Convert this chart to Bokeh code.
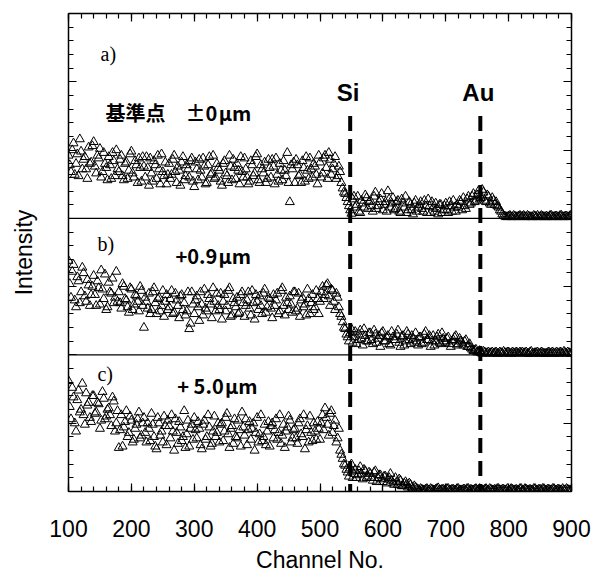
from bokeh.plotting import figure
from bokeh.models import (Range1d, LinearAxis, SingleIntervalTicker, Span, Label,
                          CustomJSTickFormatter)
from bokeh.embed import file_html
from bokeh.resources import INLINE

# ---------------- data ----------------
channels = list(range(100, 901, 4))       # first set of sampled channels
channels_2 = list(range(102, 899, 4))     # interleaved second set

# panel a) reference point +-0 um  (panel units 0..15)
intensity_a = [
    4.6, 3.4, 5.5, 4.0, 3.1, 4.9, 4.3, 3.6, 5.2, 4.1,
    5.6, 3.3, 4.4, 3.0, 4.8, 3.7, 4.5, 2.9, 4.2, 5.0,
    3.4, 4.6, 2.8, 4.1, 3.5, 4.9, 3.0, 3.9, 4.4, 2.7,
    3.8, 4.5, 2.4, 3.3, 4.2, 2.9, 3.6, 4.7, 3.1, 2.5,
    4.0, 3.2, 4.6, 2.6, 3.5, 4.1, 2.8, 3.9, 3.0, 4.4,
    2.3, 3.6, 4.3, 3.0, 3.8, 2.6, 4.5, 3.3, 2.9, 4.0,
    3.5, 2.4, 4.2, 3.1, 4.6, 2.8, 3.7, 4.0, 2.5, 3.4,
    4.4, 3.0, 2.7, 3.9, 3.3, 4.7, 2.6, 3.6, 4.1, 2.9,
    3.7, 4.3, 2.5, 3.2, 4.0, 2.8, 3.5, 4.8, 1.2, 3.6,
    2.6, 3.9, 3.2, 4.2, 2.7, 3.5, 4.4, 3.0, 3.8, 2.5,
    4.1, 3.3, 4.6, 2.9, 4.3, 3.6, 4.5, 3.1, 3.4, 2.2,
    1.8, 1.2, 0.6, 1.4, 0.8, 1.6, 0.4, 1.1, 1.7, 0.7,
    1.3, 0.5, 1.9, 0.9, 1.4, 0.6, 1.2, 2.0, 0.8, 1.5,
    0.7, 1.3, 0.4, 1.1, 1.6, 0.6, 1.0, 0.3, 1.3, 0.8,
    1.2, 0.5, 0.9, 1.4, 0.4, 0.8, 1.1, 0.3, 1.0, 0.6,
    1.1, 0.4, 0.9, 1.3, 0.5, 0.8, 1.2, 1.5, 0.7, 1.6,
    1.1, 1.8, 1.3, 2.0, 1.5, 1.9, 1.2, 1.6, 1.0, 1.3,
    1.2, 0.8, 0.5, 0.2, 0.1, 0.15, 0.1, 0.2, 0.1, 0.15,
    0.1, 0.2, 0.1, 0.15, 0.1, 0.2, 0.1, 0.1, 0.2, 0.1,
    0.15, 0.1, 0.2, 0.1, 0.15, 0.1, 0.2, 0.1, 0.15, 0.1,
    0.2,
]
intensity_a_2 = [
    3.9, 5.0, 3.2, 4.7, 5.8, 3.6, 4.5, 2.9, 4.0, 5.3,
    3.8, 4.6, 5.1, 3.4, 4.0, 2.8, 3.9, 4.8, 3.1, 3.6,
    4.3, 3.1, 4.0, 2.9, 4.7, 3.3, 4.2, 2.6, 3.7, 4.5,
    3.0, 3.7, 4.4, 2.7, 3.9, 4.6, 2.5, 3.4, 4.1, 3.2,
    2.9, 4.3, 3.4, 3.8, 2.4, 4.5, 3.1, 3.6, 4.2, 2.7,
    4.1, 2.8, 3.5, 4.4, 2.5, 3.9, 3.2, 4.6, 3.0, 3.7,
    2.7, 4.0, 3.3, 2.6, 3.8, 4.3, 2.9, 3.5, 4.5, 3.0,
    3.6, 2.5, 4.2, 3.1, 4.5, 2.8, 3.9, 3.3, 2.6, 4.3,
    3.0, 3.8, 4.4, 2.7, 3.5, 4.2, 3.1, 2.6, 3.9, 4.1,
    4.3, 3.1, 2.6, 3.7, 4.5, 2.9, 3.6, 4.0, 3.2, 4.6,
    3.0, 4.4, 3.7, 4.8, 3.2, 4.0, 2.9, 3.8, 2.6, 1.9,
    1.5, 0.9, 0.35, 1.6, 1.0, 0.5, 1.3, 0.8, 1.5, 1.2,
    0.9, 1.6, 0.7, 1.2, 1.8, 1.0, 0.5, 1.4, 1.1, 0.6,
    1.2, 0.5, 1.4, 0.8, 0.4, 1.2, 0.6, 1.1, 0.5, 1.0,
    0.7, 1.3, 0.4, 0.9, 1.2, 0.5, 0.7, 1.0, 0.4, 0.9,
    0.6, 1.2, 0.5, 0.8, 1.0, 1.3, 0.6, 0.9, 1.4, 1.0,
    1.6, 1.2, 1.7, 1.4, 2.1, 1.3, 1.7, 1.1, 1.5, 1.0,
    0.9, 0.6, 0.3, 0.15, 0.1, 0.2, 0.1, 0.15, 0.1, 0.2,
    0.15, 0.1, 0.2, 0.1, 0.1, 0.15, 0.2, 0.1, 0.15, 0.1,
    0.1, 0.2, 0.1, 0.15, 0.1, 0.2, 0.1, 0.15, 0.1, 0.2,
]

# panel b) +0.9 um  (panel units 0..10)
intensity_b = [
    6.9, 4.2, 6.6, 3.5, 5.4, 4.6, 6.0, 3.9, 5.1, 4.4,
    5.8, 3.6, 4.9, 6.2, 4.1, 3.3, 5.3, 4.5, 3.8, 6.1,
    4.6, 3.4, 5.0, 4.0, 3.1, 4.8, 3.7, 4.3, 3.2, 4.7,
    2.0, 3.9, 4.5, 3.3, 4.9, 3.0, 4.2, 3.6, 2.8, 4.4,
    3.5, 4.7, 3.1, 4.0, 2.7, 4.4, 3.8, 3.2, 1.9, 4.6,
    3.0, 4.3, 2.5, 3.7, 4.8, 3.2, 4.1, 2.7, 3.9, 4.5,
    3.3, 2.6, 4.4, 3.6, 4.9, 2.9, 3.8, 4.2, 3.1, 4.6,
    2.8, 4.0, 3.4, 4.7, 2.6, 3.9, 4.3, 3.0, 4.8, 3.5,
    4.1, 2.7, 3.6, 4.5, 3.2, 4.9, 2.9, 3.8, 4.3, 3.1,
    4.6, 3.4, 2.8, 4.2, 3.7, 4.8, 3.0, 4.4, 3.5, 4.1,
    3.9, 5.0, 4.4, 5.2, 3.6, 4.7, 3.3, 4.2, 3.0, 2.4,
    1.9, 1.3, 1.6, 0.9, 1.7, 1.1, 1.8, 0.7, 1.4, 1.0,
    1.6, 0.8, 1.5, 1.2, 0.6, 1.7, 1.0, 1.4, 0.7, 1.3,
    1.1, 1.8, 0.6, 1.4, 1.0, 1.5, 0.8, 1.2, 1.6, 0.7,
    1.3, 0.9, 1.7, 1.1, 0.6, 1.4, 1.0, 1.5, 0.8, 1.2,
    0.9, 1.3, 0.6, 1.1, 1.4, 0.8, 1.0, 0.7, 1.1, 0.6,
    0.5, 0.3, 0.4, 0.2, 0.15, 0.25, 0.1, 0.2, 0.15, 0.1,
    0.2, 0.1, 0.15, 0.25, 0.1, 0.2, 0.1, 0.15, 0.2, 0.1,
    0.15, 0.1, 0.2, 0.1, 0.25, 0.1, 0.15, 0.1, 0.2, 0.1,
    0.1, 0.2, 0.15, 0.1, 0.2, 0.1, 0.15, 0.25, 0.1, 0.15,
    0.1,
]
intensity_b_2 = [
    5.2, 6.1, 4.0, 5.7, 3.8, 6.4, 4.3, 5.5, 3.6, 5.0,
    4.4, 5.4, 3.7, 4.8, 5.9, 3.5, 4.6, 5.6, 4.2, 3.9,
    3.8, 5.2, 4.1, 3.5, 4.9, 3.3, 4.4, 3.9, 5.0, 3.6,
    4.2, 3.4, 3.0, 4.6, 3.8, 4.1, 3.2, 4.7, 3.9, 3.3,
    4.1, 3.0, 4.5, 3.6, 4.3, 3.3, 2.9, 4.6, 2.3, 3.7,
    4.0, 3.5, 4.6, 2.9, 3.4, 4.4, 3.7, 4.9, 3.2, 3.6,
    4.5, 3.9, 3.2, 4.7, 2.8, 4.1, 3.5, 3.0, 4.4, 3.8,
    3.6, 4.6, 2.9, 3.8, 4.4, 3.3, 3.6, 4.5, 3.1, 4.2,
    3.4, 4.4, 4.0, 3.0, 4.7, 3.6, 4.2, 3.3, 3.7, 4.6,
    3.2, 4.5, 4.0, 3.5, 2.9, 4.1, 3.8, 3.3, 4.7, 3.0,
    4.6, 4.1, 5.1, 4.3, 4.8, 3.9, 4.5, 3.5, 2.8, 2.0,
    1.5, 1.0, 1.9, 1.3, 0.8, 1.5, 1.2, 1.9, 1.0, 1.6,
    1.1, 1.8, 0.9, 1.4, 1.6, 1.0, 1.3, 0.8, 1.7, 1.1,
    1.5, 0.9, 1.3, 0.7, 1.7, 1.1, 1.4, 0.9, 1.0, 1.3,
    0.8, 1.5, 1.1, 1.4, 1.0, 0.7, 1.3, 0.9, 1.6, 1.0,
    1.2, 0.8, 1.0, 1.3, 0.7, 1.2, 0.9, 1.0, 0.6, 0.8,
    0.4, 0.35, 0.2, 0.3, 0.1, 0.2, 0.15, 0.1, 0.2, 0.15,
    0.1, 0.2, 0.1, 0.15, 0.2, 0.1, 0.2, 0.1, 0.15, 0.2,
    0.2, 0.15, 0.1, 0.2, 0.1, 0.15, 0.2, 0.1, 0.15, 0.1,
    0.15, 0.1, 0.2, 0.1, 0.15, 0.2, 0.1, 0.15, 0.2, 0.1,
]

# panel c) +5.0 um  (panel units 0..10)
intensity_c = [
    8.1, 5.3, 6.9, 4.4, 7.4, 6.0, 5.6, 7.2, 6.5, 5.1,
    7.0, 5.8, 6.4, 5.2, 6.8, 5.5, 6.1, 4.8, 6.6, 5.0,
    3.2, 5.6, 4.7, 5.9, 4.3, 5.2, 3.8, 4.9, 5.8, 4.1,
    5.4, 3.6, 4.6, 5.7, 4.0, 3.1, 5.0, 4.4, 5.5, 3.4,
    4.8, 5.6, 3.0, 4.3, 5.1, 3.7, 5.9, 4.2, 3.3, 4.9,
    5.4, 3.9, 4.6, 3.1, 5.2, 4.0, 4.7, 3.5, 5.5, 4.3,
    3.6, 5.0, 4.4, 5.7, 3.2, 4.8, 5.3, 3.9, 4.5, 5.8,
    4.1, 3.4, 5.1, 4.6, 3.0, 5.4, 4.2, 3.7, 4.9, 4.4,
    3.3, 5.0, 4.5, 3.8, 5.6, 4.1, 3.2, 4.7, 5.2, 3.9,
    4.6, 3.5, 5.3, 4.0, 3.1, 4.8, 5.5, 3.7, 4.4, 5.1,
    3.8, 5.6, 6.1, 4.9, 5.7, 4.3, 5.2, 3.9, 3.0, 2.4,
    1.9, 1.4, 1.7, 1.0, 1.6, 1.2, 1.8, 0.9, 1.5, 1.1,
    1.3, 0.8, 1.5, 1.0, 1.2, 0.7, 1.1, 0.9, 1.3, 0.6,
    1.0, 0.5, 0.8, 0.4, 0.7, 0.3, 0.5, 0.2, 0.3, 0.15,
    0.2, 0.1, 0.15, 0.1, 0.2, 0.1, 0.15, 0.25, 0.1, 0.15,
    0.1, 0.2, 0.1, 0.15, 0.1, 0.2, 0.1, 0.15, 0.1, 0.2,
    0.15, 0.1, 0.2, 0.1, 0.15, 0.1, 0.2, 0.1, 0.15, 0.1,
    0.1, 0.2, 0.1, 0.15, 0.1, 0.1, 0.2, 0.1, 0.15, 0.1,
    0.2, 0.1, 0.15, 0.1, 0.1, 0.2, 0.1, 0.15, 0.1, 0.2,
    0.1, 0.15, 0.1, 0.2, 0.1, 0.15, 0.1, 0.1, 0.2, 0.1,
    0.1,
]
intensity_c_2 = [
    6.2, 7.6, 5.0, 6.7, 5.8, 7.9, 4.9, 6.3, 5.4, 7.0,
    5.7, 6.5, 4.6, 7.3, 5.3, 6.0, 5.6, 6.9, 4.4, 5.9,
    4.5, 3.3, 5.1, 4.0, 5.5, 3.6, 4.6, 5.3, 3.9, 5.0,
    4.3, 5.0, 3.7, 4.9, 3.3, 5.4, 4.1, 3.6, 4.8, 5.2,
    3.9, 4.4, 5.3, 3.5, 4.7, 4.0, 3.2, 5.2, 4.6, 3.8,
    4.5, 5.1, 3.4, 4.9, 3.8, 5.6, 3.3, 4.4, 4.0, 5.0,
    4.9, 3.7, 5.4, 4.2, 4.6, 3.5, 4.0, 5.2, 3.3, 4.7,
    5.3, 4.5, 3.8, 5.0, 4.3, 3.6, 5.6, 4.0, 3.4, 5.1,
    4.8, 3.9, 5.3, 4.3, 3.5, 4.9, 4.4, 5.5, 3.6, 4.5,
    3.9, 5.0, 4.2, 5.6, 4.5, 3.6, 4.3, 5.0, 3.8, 4.6,
    5.0, 4.5, 5.4, 4.1, 5.9, 4.8, 3.6, 4.6, 2.7, 2.0,
    1.6, 1.1, 2.0, 1.3, 1.0, 1.5, 1.3, 1.6, 1.0, 1.4,
    1.0, 1.4, 0.7, 1.2, 0.9, 1.1, 0.6, 1.0, 0.8, 0.5,
    0.7, 0.9, 0.4, 0.6, 0.5, 0.6, 0.3, 0.4, 0.2, 0.1,
    0.15, 0.1, 0.2, 0.1, 0.15, 0.1, 0.2, 0.1, 0.15, 0.1,
    0.2, 0.1, 0.15, 0.1, 0.2, 0.1, 0.1, 0.15, 0.2, 0.1,
    0.1, 0.15, 0.1, 0.2, 0.1, 0.15, 0.1, 0.2, 0.1, 0.15,
    0.2, 0.1, 0.15, 0.1, 0.2, 0.1, 0.15, 0.1, 0.1, 0.2,
    0.1, 0.2, 0.1, 0.15, 0.1, 0.2, 0.1, 0.15, 0.2, 0.1,
    0.15, 0.1, 0.2, 0.1, 0.15, 0.1, 0.2, 0.1, 0.15, 0.1,
]

peak_channels = [548, 755]
peak_names = ["Si", "Au"]
panel_letters = ["a)", "b)", "c)"]
panel_offsets = ["基準点　±0\u200aμm", "+0.9\u200aμm", "+ 5.0\u200aμm"]
x_label = "Channel No."
y_label = "Intensity"

for arr, ch in [(intensity_a, channels), (intensity_b, channels), (intensity_c, channels),
                (intensity_a_2, channels_2), (intensity_b_2, channels_2),
                (intensity_c_2, channels_2)]:
    assert len(arr) == len(ch), (len(arr), len(ch))

# ---------------- figure ----------------
p = figure(width=603, height=577,
           x_range=Range1d(100, 900), y_range=Range1d(0, 35),
           output_backend="svg", toolbar_location=None,
           min_border_left=68, min_border_right=32,
           min_border_top=13, min_border_bottom=86)
p.background_fill_color = "white"
p.border_fill_color = "white"
p.outline_line_color = None
p.xgrid.visible = False
p.ygrid.visible = False

# each panel has its own y scale, stacked inside one frame
p.extra_y_ranges = {
    "a": Range1d(-20, 15),
    "b": Range1d(-10, 25),
    "c": Range1d(0, 35),
}

blank = CustomJSTickFormatter(code="return ''")


def style_axis(ax, labels):
    ax.axis_line_color = "black"
    ax.axis_line_width = 1.5
    ax.major_tick_in = 8
    ax.major_tick_out = 0
    ax.minor_tick_in = 5
    ax.minor_tick_out = 0
    ax.major_tick_line_color = "black"
    ax.minor_tick_line_color = "black"
    ax.major_tick_line_width = 1.2
    ax.minor_tick_line_width = 1.2
    if not labels:
        ax.formatter = blank
        ax.major_label_text_font_size = "0px"
        ax.major_label_standoff = 0


xt = SingleIntervalTicker(interval=100, num_minor_ticks=5)
yt = SingleIntervalTicker(interval=5, num_minor_ticks=5)

xb = p.xaxis[0]
xb.ticker = xt
style_axis(xb, True)
xb.major_label_text_font = "Liberation Sans"
xb.major_label_text_font_size = "23px"
xb.major_label_text_color = "black"
xb.major_label_standoff = 28
xb.axis_label = x_label
xb.axis_label_text_font = "Liberation Sans"
xb.axis_label_text_font_size = "23px"
xb.axis_label_text_font_style = "normal"
xb.axis_label_text_color = "black"
xb.axis_label_standoff = 7

yl = p.yaxis[0]
yl.ticker = yt
style_axis(yl, False)
yl.axis_label = y_label
yl.axis_label_text_font = "Liberation Sans"
yl.axis_label_text_font_size = "23px"
yl.axis_label_text_font_style = "normal"
yl.axis_label_text_color = "black"
yl.axis_label_standoff = 32

xa = LinearAxis(ticker=xt)
style_axis(xa, False)
p.add_layout(xa, "above")

yr = LinearAxis(ticker=yt)
style_axis(yr, False)
p.add_layout(yr, "right")

# panel dividers
for name in ["a", "b"]:
    p.add_layout(Span(location=0, dimension="width", y_range_name=name,
                      line_color="black", line_width=1.2))

# data
for name, v1, v2 in [("a", intensity_a, intensity_a_2),
                     ("b", intensity_b, intensity_b_2),
                     ("c", intensity_c, intensity_c_2)]:
    for xs, vals in [(channels, v1), (channels_2, v2)]:
        p.scatter(xs, vals, y_range_name=name, marker="triangle", size=9,
                  line_color="black", line_width=1, fill_color=None)

# Si / Au dashed markers
p.segment(x0=peak_channels, y0=[27.5, 27.5], x1=peak_channels, y1=[0, 0],
          line_color="black", line_width=4, line_dash="15 8", line_cap="butt")

for ch, nm in zip(peak_channels, peak_names):
    p.add_layout(Label(x=ch, y=9.2, y_range_name="a", text=nm, x_offset=-2,
                       text_font="Liberation Sans", text_font_style="bold",
                       text_font_size="24px", text_color="black",
                       text_align="center", text_baseline="middle"))

letter_pos = [("a", 151, 12.0), ("b", 146, 8.13), ("c", 146, 8.64)]
for (rn, x, y), t in zip(letter_pos, panel_letters):
    p.add_layout(Label(x=x, y=y, y_range_name=rn, text=t,
                       text_font="Liberation Serif", text_font_size="20px",
                       text_color="black", text_align="left", text_baseline="middle"))

offset_pos = [("a", 159, 7.76), ("b", 270, 7.25), ("c", 273, 7.76)]
for (rn, x, y), t in zip(offset_pos, panel_offsets):
    p.add_layout(Label(x=x, y=y, y_range_name=rn, text=t,
                       text_font="Noto Sans CJK JP", text_font_style="bold",
                       text_font_size="20px", text_color="black",
                       text_align="left", text_baseline="middle"))

open("out.html", "w").write(file_html(p, INLINE))
